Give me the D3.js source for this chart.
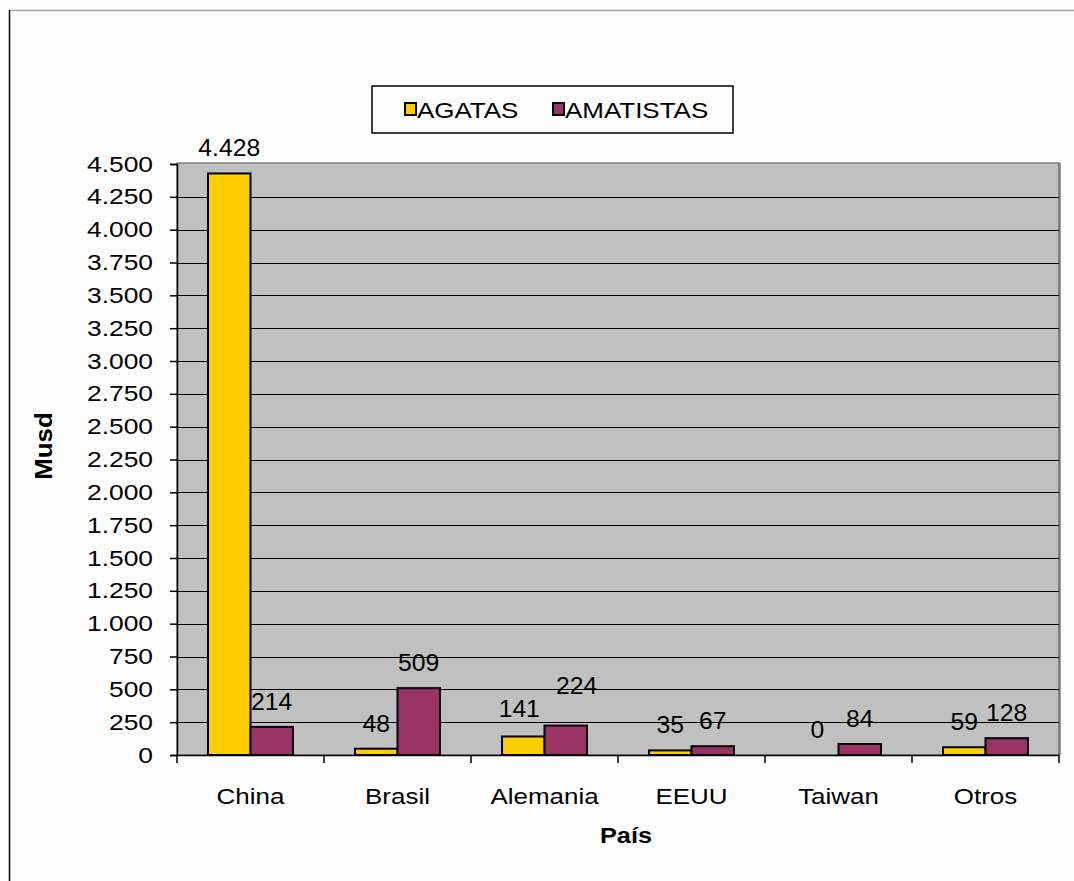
<!DOCTYPE html>
<html>
<head>
<meta charset="utf-8">
<script src="https://cdn.jsdelivr.net/npm/d3@7"></script>
<style>
  body { margin: 0; background: #fdfdfd; }
  svg { display: block; font-family: Arial, "Liberation Sans", sans-serif; }
</style>
</head>
<body>
<svg id="chart" width="1074" height="881"></svg>
<script>
const categories = ['China', 'Brasil', 'Alemania', 'EEUU', 'Taiwan', 'Otros'];
const series = ['AGATAS', 'AMATISTAS'];
const agatas = [4428, 48, 141, 35, 0, 59];
const amatistas = [214, 509, 224, 67, 84, 128];
const yTicks = [0, 250, 500, 750, 1000, 1250, 1500, 1750, 2000, 2250, 2500, 2750, 3000, 3250, 3500, 3750, 4000, 4250, 4500];
const colors = ['#ffcc00', '#993366'];

const svg = d3.select('#chart');
const plot = { left: 177, right: 1059, top: 164, bottom: 755 };
const sx = 1.18; // the source text is a little stretched sideways
const fmt = d3.formatLocale({ decimal: ',', thousands: '.', grouping: [3], currency: ['', ''] }).format(',d');
// labels that were moved by hand in the original (Alemania)
const nudge = { 'Alemania-0': [-4, -2], 'Alemania-1': [11, -15] };

const x = d3.scaleBand().domain(categories).range([plot.left, plot.right]).paddingInner(0).paddingOuter(0);
const xs = d3.scaleBand().domain(series).range([0, x.bandwidth()]).paddingInner(0).paddingOuter(0.73);
const y = d3.scaleLinear().domain([0, 4500]).range([plot.bottom, plot.top]);

// put a stretched label at (px, py)
function label(txt, px, py, anchor, size, weight, stretch) {
    return svg.append('text')
        .attr('transform', `translate(${px},${py}) scale(${stretch || sx},1)`)
        .attr('text-anchor', anchor)
        .attr('font-size', size)
        .attr('font-weight', weight || 'normal')
        .attr('fill', '#000')
        .text(txt);
}

// frame of the page
svg.append('line').attr('x1', 9).attr('x2', 1074).attr('y1', 10.5).attr('y2', 10.5)
    .attr('stroke', '#a6a6a6').attr('stroke-width', 1.5);
svg.append('line').attr('x1', 9.5).attr('x2', 9.5).attr('y1', 10).attr('y2', 881)
    .attr('stroke', '#000').attr('stroke-width', 1.5);

// plot area
svg.append('rect')
    .attr('x', plot.left).attr('y', plot.top - 1)
    .attr('width', plot.right - plot.left).attr('height', plot.bottom - plot.top + 1)
    .attr('fill', '#c0c0c0').attr('stroke', '#808080').attr('stroke-width', 1.5);
svg.append('line').attr('x1', plot.right + 0.5).attr('x2', plot.right + 0.5)
    .attr('y1', plot.top - 1).attr('y2', plot.bottom)
    .attr('stroke', '#7a7a7a').attr('stroke-width', 2.5);

// gridlines
svg.append('g').selectAll('line')
    .data(yTicks.filter(t => t > 0 && t < 4500))
    .join('line')
    .attr('x1', plot.left).attr('x2', plot.right)
    .attr('y1', d => Math.round(y(d)) + 0.5).attr('y2', d => Math.round(y(d)) + 0.5)
    .attr('stroke', '#000').attr('stroke-width', 1);

// y axis
const yAxis = svg.append('g').attr('transform', `translate(${plot.left},0)`)
    .call(d3.axisLeft(y).tickValues(yTicks).tickSize(7).tickFormat(''));
yAxis.select('.domain').attr('stroke', '#000').attr('stroke-width', 1.5);
yAxis.selectAll('.tick line').attr('stroke', '#000').attr('stroke-width', 1.5);
yTicks.forEach(t => label(fmt(t), 153, y(t) + 7.5, 'end', '22px', 'normal', 1.2));

// x axis
const xAxis = svg.append('g').attr('transform', `translate(0,${plot.bottom})`)
    .call(d3.axisBottom(x).tickSize(0).tickFormat(''));
xAxis.select('.domain').attr('stroke', '#000').attr('stroke-width', 1.5);
xAxis.selectAll('.tick').remove();
svg.append('g').selectAll('line')
    .data(d3.range(categories.length + 1))
    .join('line')
    .attr('x1', i => i < categories.length ? x(categories[i]) : plot.right)
    .attr('x2', i => i < categories.length ? x(categories[i]) : plot.right)
    .attr('y1', plot.bottom).attr('y2', plot.bottom + 8)
    .attr('stroke', '#000').attr('stroke-width', 1.5);
categories.forEach(c => label(c, x(c) + x.bandwidth() / 2, 804, 'middle', '22px'));

// bars and value labels
const rows = categories.map((c, i) => ({ cat: c, vals: [agatas[i], amatistas[i]] }));
rows.forEach(r => {
    r.vals.forEach((v, j) => {
        const bx = x(r.cat) + xs(series[j]);
        if (v > 0) {
            svg.append('rect')
                .attr('x', bx).attr('y', y(v))
                .attr('width', xs.bandwidth()).attr('height', y(0) - y(v))
                .attr('fill', colors[j]).attr('stroke', '#000').attr('stroke-width', 2);
        }
        const n = nudge[`${r.cat}-${j}`] || [0, 0];
        label(fmt(v), bx + xs.bandwidth() / 2 + n[0], y(v) - 17 + n[1], 'middle', '24px', 'normal', 1.03);
    });
});

// axis titles
label('País', 626, 843, 'middle', '22px', 'bold', 1.15);
svg.append('text')
    .attr('transform', 'translate(52,446) rotate(-90) scale(1.08,1)')
    .attr('text-anchor', 'middle')
    .attr('font-size', '24px').attr('font-weight', 'bold')
    .text('Musd');

// legend
const lg = svg.append('g');
lg.append('rect').attr('x', 372).attr('y', 86).attr('width', 361).attr('height', 47)
    .attr('fill', '#fdfdfd').attr('stroke', '#000').attr('stroke-width', 1.5);
const legendX = [405, 553];
series.forEach((s, j) => {
    lg.append('rect').attr('x', legendX[j]).attr('y', 103).attr('width', 11).attr('height', 12)
        .attr('fill', colors[j]).attr('stroke', '#000').attr('stroke-width', 2);
    label(s, legendX[j] + 12, 117.5, 'start', '22px');
});
</script>
</body>
</html>
